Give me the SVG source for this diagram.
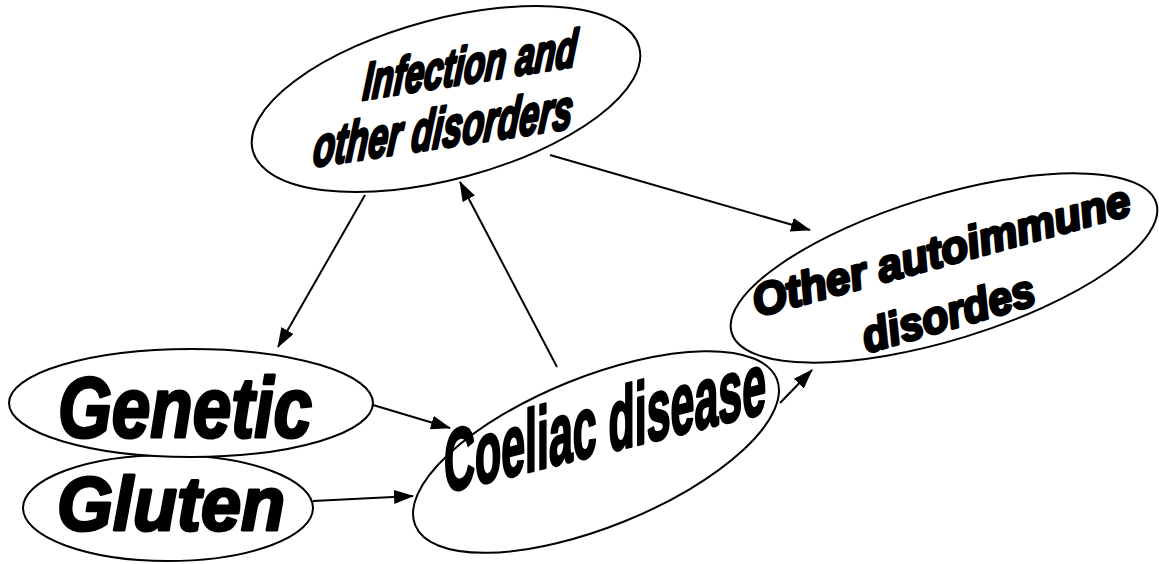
<svg xmlns="http://www.w3.org/2000/svg" width="1159" height="564" viewBox="0 0 1159 564">
<style>
.node{fill:#fff;stroke:#000;stroke-width:2}
.lbl{font-family:"Liberation Sans",Arial,sans-serif;font-weight:bold;fill:#000;stroke:#000;stroke-width:3;stroke-linejoin:round}
.it{font-style:italic}
.edge{stroke:#000;stroke-width:2;fill:none;marker-end:url(#arr)}
</style>
<defs>
<marker id="arr" viewBox="0 0 20 14" refX="19" refY="7" markerWidth="20" markerHeight="14" markerUnits="userSpaceOnUse" orient="auto">
<path d="M0,0 L20,7 L0,14 Z" fill="#000"/>
</marker>
</defs>
<g id="connectors">
<line class="edge" x1="365" y1="195" x2="278" y2="347"/>
<line class="edge" x1="557" y1="367" x2="460" y2="182"/>
<line class="edge" x1="550" y1="155" x2="810" y2="230"/>
<line class="edge" x1="373" y1="405" x2="450" y2="428"/>
<line class="edge" x1="313" y1="501" x2="413" y2="496"/>
<line class="edge" x1="780" y1="403" x2="812" y2="370"/>
</g>
<g id="node-infection">
<ellipse class="node" cx="446" cy="99" rx="200" ry="80" transform="rotate(-15 446 99)"/>
<text class="lbl it" font-size="52" textLength="216" lengthAdjust="spacingAndGlyphs" transform="translate(362 100) rotate(-9) skewX(-14)">Infection and</text>
<text class="lbl it" font-size="56" textLength="262" lengthAdjust="spacingAndGlyphs" transform="translate(312 167) rotate(-8.5) skewX(-14)">other disorders</text>
</g>
<g id="node-other">
<ellipse class="node" cx="944" cy="268" rx="222" ry="72" transform="rotate(-17 944 268)"/>
<text class="lbl it" font-size="45" textLength="390" lengthAdjust="spacingAndGlyphs" transform="translate(757 317) rotate(-15.3)">Other autoimmune</text>
<text class="lbl it" font-size="46" textLength="178" lengthAdjust="spacingAndGlyphs" transform="translate(867 353) rotate(-16)">disordes</text>
</g>
<g id="node-gluten">
<ellipse class="node" cx="168" cy="508" rx="145" ry="53"/>
<text class="lbl it" font-size="76" textLength="228" lengthAdjust="spacingAndGlyphs" x="57" y="530">Gluten</text>
</g>
<g id="node-genetic">
<ellipse class="node" cx="191" cy="403" rx="182" ry="54"/>
<text class="lbl it" font-size="86" textLength="254" lengthAdjust="spacingAndGlyphs" x="58" y="437">Genetic</text>
</g>
<g id="node-coeliac">
<ellipse class="node" cx="596" cy="452" rx="195" ry="75" transform="rotate(-22 596 452)"/>
<text class="lbl" font-size="88" textLength="322" lengthAdjust="spacingAndGlyphs" transform="translate(444 493) skewY(-14)">Coeliac disease</text>
</g>
</svg>
